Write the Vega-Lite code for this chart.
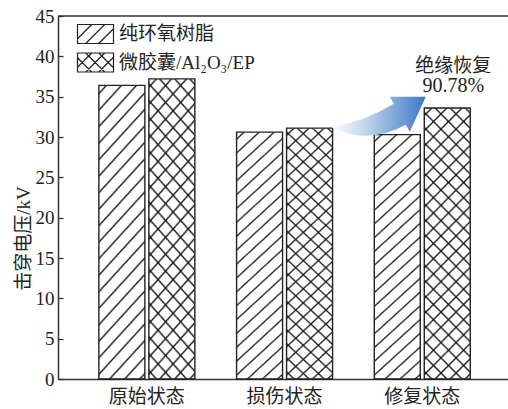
{
  "$schema": "https://vega.github.io/schema/vega-lite/v6.json",
  "width": 450,
  "height": 363,
  "autosize": {"type": "none"},
  "padding": {"left": 58, "top": 16, "right": 0, "bottom": 30},
  "config": {
    "font": "Liberation Serif, DejaVu Serif, Noto Sans CJK SC",
    "view": {"stroke": null},
    "axis": {"grid": false, "titleFontWeight": "normal"}
  },
  "data": {"values": [
    {"group": "原始状态", "series": "纯环氧树脂", "v": 36.4},
    {"group": "原始状态", "series": "微胶囊/Al₂O₃/EP", "v": 37.2},
    {"group": "损伤状态", "series": "纯环氧树脂", "v": 30.6},
    {"group": "损伤状态", "series": "微胶囊/Al₂O₃/EP", "v": 31.1},
    {"group": "修复状态", "series": "纯环氧树脂", "v": 30.3},
    {"group": "修复状态", "series": "微胶囊/Al₂O₃/EP", "v": 33.6}
  ]},
  "layer": [
    {
      "mark": {"type": "bar", "stroke": null, "fill": {"gradient": "linear", "x1": 0, "y1": 0, "x2": 0.1953, "y2": 1.138, "stops": [
        {"offset": 0.018, "color": "rgba(0,0,0,0)"}, {"offset": 0.024, "color": "#222"}, {"offset": 0.030, "color": "rgba(0,0,0,0)"},
        {"offset": 0.066, "color": "rgba(0,0,0,0)"}, {"offset": 0.072, "color": "#222"}, {"offset": 0.078, "color": "rgba(0,0,0,0)"},
        {"offset": 0.114, "color": "rgba(0,0,0,0)"}, {"offset": 0.120, "color": "#222"}, {"offset": 0.126, "color": "rgba(0,0,0,0)"},
        {"offset": 0.162, "color": "rgba(0,0,0,0)"}, {"offset": 0.168, "color": "#222"}, {"offset": 0.174, "color": "rgba(0,0,0,0)"},
        {"offset": 0.210, "color": "rgba(0,0,0,0)"}, {"offset": 0.216, "color": "#222"}, {"offset": 0.222, "color": "rgba(0,0,0,0)"},
        {"offset": 0.258, "color": "rgba(0,0,0,0)"}, {"offset": 0.264, "color": "#222"}, {"offset": 0.270, "color": "rgba(0,0,0,0)"},
        {"offset": 0.306, "color": "rgba(0,0,0,0)"}, {"offset": 0.312, "color": "#222"}, {"offset": 0.318, "color": "rgba(0,0,0,0)"},
        {"offset": 0.354, "color": "rgba(0,0,0,0)"}, {"offset": 0.360, "color": "#222"}, {"offset": 0.366, "color": "rgba(0,0,0,0)"},
        {"offset": 0.402, "color": "rgba(0,0,0,0)"}, {"offset": 0.408, "color": "#222"}, {"offset": 0.414, "color": "rgba(0,0,0,0)"},
        {"offset": 0.450, "color": "rgba(0,0,0,0)"}, {"offset": 0.456, "color": "#222"}, {"offset": 0.462, "color": "rgba(0,0,0,0)"},
        {"offset": 0.498, "color": "rgba(0,0,0,0)"}, {"offset": 0.504, "color": "#222"}, {"offset": 0.510, "color": "rgba(0,0,0,0)"},
        {"offset": 0.546, "color": "rgba(0,0,0,0)"}, {"offset": 0.552, "color": "#222"}, {"offset": 0.558, "color": "rgba(0,0,0,0)"},
        {"offset": 0.594, "color": "rgba(0,0,0,0)"}, {"offset": 0.600, "color": "#222"}, {"offset": 0.606, "color": "rgba(0,0,0,0)"},
        {"offset": 0.642, "color": "rgba(0,0,0,0)"}, {"offset": 0.648, "color": "#222"}, {"offset": 0.654, "color": "rgba(0,0,0,0)"},
        {"offset": 0.690, "color": "rgba(0,0,0,0)"}, {"offset": 0.696, "color": "#222"}, {"offset": 0.702, "color": "rgba(0,0,0,0)"},
        {"offset": 0.738, "color": "rgba(0,0,0,0)"}, {"offset": 0.744, "color": "#222"}, {"offset": 0.750, "color": "rgba(0,0,0,0)"},
        {"offset": 0.786, "color": "rgba(0,0,0,0)"}, {"offset": 0.792, "color": "#222"}, {"offset": 0.798, "color": "rgba(0,0,0,0)"},
        {"offset": 0.834, "color": "rgba(0,0,0,0)"}, {"offset": 0.840, "color": "#222"}, {"offset": 0.846, "color": "rgba(0,0,0,0)"},
        {"offset": 0.882, "color": "rgba(0,0,0,0)"}, {"offset": 0.888, "color": "#222"}, {"offset": 0.894, "color": "rgba(0,0,0,0)"},
        {"offset": 0.930, "color": "rgba(0,0,0,0)"}, {"offset": 0.936, "color": "#222"}, {"offset": 0.942, "color": "rgba(0,0,0,0)"},
        {"offset": 0.978, "color": "rgba(0,0,0,0)"}, {"offset": 0.984, "color": "#222"}, {"offset": 0.990, "color": "rgba(0,0,0,0)"}
      ]}},
      "encoding": {
        "x": {"field": "group", "type": "nominal",
          "scale": {"domain": ["原始状态", "损伤状态", "修复状态"], "paddingInner": 0.303, "paddingOuter": 0.2855, "align": 0.52},
          "axis": {"title": null, "ticks": false, "labelPadding": 8, "labelFontSize": 19, "labelAngle": 0, "domainColor": "#333", "domainWidth": 1.5, "labelColor": "#222"}},
        "xOffset": {"field": "series", "type": "nominal",
          "scale": {"domain": ["纯环氧树脂", "微胶囊/Al₂O₃/EP"], "paddingInner": 0.08, "paddingOuter": 0}},
        "y": {"field": "v", "type": "quantitative",
          "scale": {"domain": [0, 45], "nice": false},
          "axis": {"title": "击穿电压/kV", "values": [0, 5, 10, 15, 20, 25, 30, 35, 40, 45], "ticks": false, "grid": true, "gridDash": [5, 1000], "gridColor": "#333", "gridWidth": 1.3, "gridOpacity": 1, "labelPadding": 4, "labelFontSize": 19, "titleFontSize": 19, "titleX": -35, "titleY": 222, "titleBaseline": "middle", "titleAngle": -90, "titleAlign": "center", "domainColor": "#333", "domainWidth": 1.5, "labelColor": "#222", "titleColor": "#222"}}
      }
    },
    {
      "transform": [{"filter": "datum.series === '微胶囊/Al₂O₃/EP'"}],
      "mark": {"type": "bar", "stroke": null, "fill": {"gradient": "linear", "x1": 0, "y1": 1, "x2": 0.1953, "y2": -0.138, "stops": [
        {"offset": 0.018, "color": "rgba(0,0,0,0)"}, {"offset": 0.024, "color": "#222"}, {"offset": 0.030, "color": "rgba(0,0,0,0)"},
        {"offset": 0.066, "color": "rgba(0,0,0,0)"}, {"offset": 0.072, "color": "#222"}, {"offset": 0.078, "color": "rgba(0,0,0,0)"},
        {"offset": 0.114, "color": "rgba(0,0,0,0)"}, {"offset": 0.120, "color": "#222"}, {"offset": 0.126, "color": "rgba(0,0,0,0)"},
        {"offset": 0.162, "color": "rgba(0,0,0,0)"}, {"offset": 0.168, "color": "#222"}, {"offset": 0.174, "color": "rgba(0,0,0,0)"},
        {"offset": 0.210, "color": "rgba(0,0,0,0)"}, {"offset": 0.216, "color": "#222"}, {"offset": 0.222, "color": "rgba(0,0,0,0)"},
        {"offset": 0.258, "color": "rgba(0,0,0,0)"}, {"offset": 0.264, "color": "#222"}, {"offset": 0.270, "color": "rgba(0,0,0,0)"},
        {"offset": 0.306, "color": "rgba(0,0,0,0)"}, {"offset": 0.312, "color": "#222"}, {"offset": 0.318, "color": "rgba(0,0,0,0)"},
        {"offset": 0.354, "color": "rgba(0,0,0,0)"}, {"offset": 0.360, "color": "#222"}, {"offset": 0.366, "color": "rgba(0,0,0,0)"},
        {"offset": 0.402, "color": "rgba(0,0,0,0)"}, {"offset": 0.408, "color": "#222"}, {"offset": 0.414, "color": "rgba(0,0,0,0)"},
        {"offset": 0.450, "color": "rgba(0,0,0,0)"}, {"offset": 0.456, "color": "#222"}, {"offset": 0.462, "color": "rgba(0,0,0,0)"},
        {"offset": 0.498, "color": "rgba(0,0,0,0)"}, {"offset": 0.504, "color": "#222"}, {"offset": 0.510, "color": "rgba(0,0,0,0)"},
        {"offset": 0.546, "color": "rgba(0,0,0,0)"}, {"offset": 0.552, "color": "#222"}, {"offset": 0.558, "color": "rgba(0,0,0,0)"},
        {"offset": 0.594, "color": "rgba(0,0,0,0)"}, {"offset": 0.600, "color": "#222"}, {"offset": 0.606, "color": "rgba(0,0,0,0)"},
        {"offset": 0.642, "color": "rgba(0,0,0,0)"}, {"offset": 0.648, "color": "#222"}, {"offset": 0.654, "color": "rgba(0,0,0,0)"},
        {"offset": 0.690, "color": "rgba(0,0,0,0)"}, {"offset": 0.696, "color": "#222"}, {"offset": 0.702, "color": "rgba(0,0,0,0)"},
        {"offset": 0.738, "color": "rgba(0,0,0,0)"}, {"offset": 0.744, "color": "#222"}, {"offset": 0.750, "color": "rgba(0,0,0,0)"},
        {"offset": 0.786, "color": "rgba(0,0,0,0)"}, {"offset": 0.792, "color": "#222"}, {"offset": 0.798, "color": "rgba(0,0,0,0)"},
        {"offset": 0.834, "color": "rgba(0,0,0,0)"}, {"offset": 0.840, "color": "#222"}, {"offset": 0.846, "color": "rgba(0,0,0,0)"},
        {"offset": 0.882, "color": "rgba(0,0,0,0)"}, {"offset": 0.888, "color": "#222"}, {"offset": 0.894, "color": "rgba(0,0,0,0)"},
        {"offset": 0.930, "color": "rgba(0,0,0,0)"}, {"offset": 0.936, "color": "#222"}, {"offset": 0.942, "color": "rgba(0,0,0,0)"},
        {"offset": 0.978, "color": "rgba(0,0,0,0)"}, {"offset": 0.984, "color": "#222"}, {"offset": 0.990, "color": "rgba(0,0,0,0)"}
      ]}},
      "encoding": {
        "x": {"field": "group", "type": "nominal"},
        "xOffset": {"field": "series", "type": "nominal"},
        "y": {"field": "v", "type": "quantitative"}
      }
    },
    {
      "mark": {"type": "bar", "fill": "transparent", "stroke": "#222", "strokeWidth": 1.4},
      "encoding": {
        "x": {"field": "group", "type": "nominal"},
        "xOffset": {"field": "series", "type": "nominal"},
        "y": {"field": "v", "type": "quantitative"}
      }
    },
    {
      "mark": {"type": "point", "filled": false, "color": "#222", "opacity": 0},
      "encoding": {
        "x": {"field": "group", "type": "nominal"},
        "xOffset": {"field": "series", "type": "nominal"},
        "y": {"field": "v", "type": "quantitative"},
        "shape": {"field": "series", "type": "nominal",
          "scale": {"domain": ["纯环氧树脂", "微胶囊/Al₂O₃/EP"],
            "range": [
              "M-1.895,-1H1.895V1H-1.895Z M-1.895,0.495L-0.4,-1 M-1.03,1L0.97,-1 M0.34,1L1.895,-0.555",
              "M-1.895,-1H1.895V1H-1.895Z M-1.895,0.495L-0.4,-1 M-1.03,1L0.97,-1 M0.34,1L1.895,-0.555 M-1.895,-0.495L-0.4,1 M-1.03,-1L0.97,1 M0.34,-1L1.895,0.555"
            ]},
          "legend": {"title": null, "orient": "none", "legendX": 27, "legendY": 7.5, "padding": 0, "rowPadding": 3.5, "labelOffset": 13, "symbolSize": 361, "symbolStrokeWidth": 1.2, "symbolStrokeColor": "#222", "symbolOpacity": 1, "labelFontSize": 19, "labelColor": "#222", "labelLimit": 300,
            "encode": {"symbols": {"update": {"opacity": {"value": 1}, "stroke": {"value": "#222"}, "fill": {"value": "transparent"}}}}}}
      }
    },
    {
      "data": {"values": [{}]},
      "mark": {"type": "rule", "color": "#333", "strokeWidth": 1.5},
      "encoding": {"y": {"datum": 45}}
    },
    {
      "data": {"values": [{}]},
      "mark": {"type": "point", "shape": "M-0.95,0.2Q-0.3,0.11,0.31,-0.26L0.23,-0.4L0.95,-0.4L0.63,0.3L0.55,0.16Q-0.22,0.58,-0.95,0.2Z", "filled": true, "size": 10000, "opacity": 1, "xOffset": -44,
        "fill": {"gradient": "linear", "x1": 0, "y1": 0.5, "x2": 1, "y2": 0.5, "stops": [{"offset": 0, "color": "#ffffff"}, {"offset": 0.35, "color": "#c5d7ee"}, {"offset": 1, "color": "#3c78c5"}]},
        "stroke": null},
      "encoding": {"x": {"datum": "修复状态"}, "y": {"datum": 32.5}}
    },
    {
      "data": {"values": [{}]},
      "mark": {"type": "text", "text": "绝缘恢复", "fontSize": 19, "dx": 31, "color": "#222"},
      "encoding": {"x": {"datum": "修复状态"}, "y": {"datum": 38.8}}
    },
    {
      "data": {"values": [{}]},
      "mark": {"type": "text", "text": "90.78%", "fontSize": 20, "dx": 31, "color": "#222"},
      "encoding": {"x": {"datum": "修复状态"}, "y": {"datum": 36.3}}
    }
  ]
}
